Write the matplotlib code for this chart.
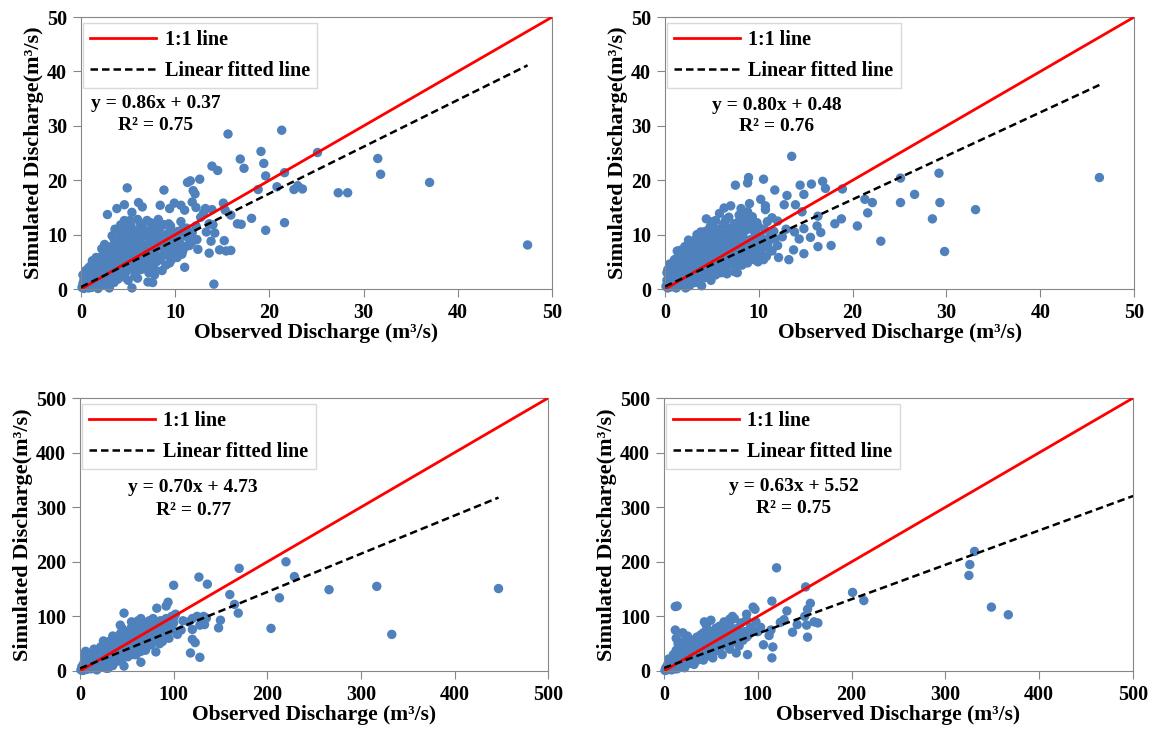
import matplotlib
matplotlib.use('Agg')
from matplotlib import pyplot as plt
from matplotlib.lines import Line2D

plt.rcParams['font.family'] = ['Liberation Serif', 'DejaVu Serif']
plt.rcParams['font.weight'] = 'bold'

# Panel 1 (0-50 m3/s): observed, simulated
obs1 = [15.6, 21.3, 19.1, 25.1, 16.9, 19.4, 17.3, 13.9, 14.5, 21.6, 19.6, 31.5, 31.8, 37.0, 27.3, 28.3,
        22.6, 23.5, 23.0, 20.8, 18.8, 47.4, 21.6, 19.6, 18.1, 16.6, 17.0, 15.9, 15.1, 15.3, 12.6, 11.3,
        11.6, 11.9, 12.1, 8.8, 4.9, 6.1, 4.6, 3.8, 2.8, 5.4, 6.5, 4.6, 8.4, 9.4, 9.9, 10.6, 11.0, 11.8,
        12.2, 13.2, 13.9, 13.0, 12.7, 13.6, 14.0, 13.3, 14.2, 13.8, 12.3, 12.4, 13.6, 14.7, 15.2, 15.4,
        15.9, 11.0, 14.1, 5.4, 7.1, 7.6, 7.8, 10.7, 9.8, 11.2, 11.7,
        0.1, 0.2, 0.3, 0.4, 0.5, 0.6, 0.7, 0.8, 0.9, 1.0, 0.3, 0.5, 0.8, 1.0,
        1.1, 1.2, 1.3, 1.4, 1.5, 1.6, 1.7, 1.8, 1.9, 2.0, 1.2, 1.6, 2.0, 1.8,
        2.1, 2.2, 2.3, 2.4, 2.5, 2.6, 2.7, 2.8, 2.9, 3.0, 2.2, 2.6, 3.0, 2.4, 3.0,
        3.1, 3.2, 3.3, 3.4, 3.5, 3.6, 3.7, 3.8, 3.9, 4.0, 3.3, 3.7, 4.0, 3.5,
        4.1, 4.2, 4.3, 4.4, 4.5, 4.6, 4.7, 4.8, 4.9, 5.0, 4.3, 4.6, 4.8, 5.0,
        5.1, 5.2, 5.3, 5.4, 5.5, 5.6, 5.7, 5.8, 5.9, 6.0, 5.3, 5.6, 6.0, 5.8,
        6.1, 6.2, 6.3, 6.4, 6.5, 6.6, 6.7, 6.8, 6.9, 7.0, 6.3, 6.6, 7.0,
        7.1, 7.2, 7.3, 7.4, 7.5, 7.6, 7.7, 7.8, 7.9, 8.0, 7.4, 7.8, 8.0,
        8.1, 8.3, 8.4, 8.6, 8.8, 8.9, 9.0, 8.5, 8.7,
        9.2, 9.4, 9.5, 9.7, 9.9, 10.0, 9.3, 9.6,
        10.3, 10.5, 10.8, 11.0, 11.2, 11.5, 11.8, 12.0, 10.6, 12.2]
sim1 = [28.5, 29.2, 25.3, 25.1, 23.9, 23.1, 22.2, 22.6, 21.8, 21.4, 20.8, 24.0, 21.1, 19.6, 17.7, 17.7,
        18.3, 18.4, 19.0, 18.8, 18.3, 8.1, 12.2, 10.8, 13.0, 12.0, 11.9, 13.6, 15.8, 14.5, 20.2, 19.6,
        19.9, 18.1, 17.5, 18.2, 18.6, 15.9, 15.5, 14.8, 13.7, 14.1, 15.1, 12.6, 15.4, 14.8, 15.8, 15.4, 14.5, 16.0,
        15.0, 14.8, 14.6, 14.0, 13.2, 12.0, 11.8, 10.5, 10.3, 8.8, 9.1, 7.3, 6.6, 7.2, 8.9, 7.0,
        7.1, 4.0, 0.9, 0.2, 1.3, 1.2, 2.6, 6.4, 7.2, 7.9, 8.5,
        0.3, 1.0, 0.1, 2.0, 0.6, 3.0, 1.4, 0.2, 2.4, 1.0, 1.6, 3.4, 3.9, 4.2,
        0.3, 2.0, 3.1, 1.2, 4.5, 2.6, 0.5, 3.6, 5.5, 1.8, 5.2, 5.8, 4.2, 0.1,
        3.0, 6.0, 0.8, 4.8, 8.2, 2.2, 5.4, 7.0, 3.6, 1.0, 7.4, 6.6, 5.8, 1.5, 0.2,
        4.2, 7.8, 2.5, 6.2, 9.2, 3.4, 5.0, 8.4, 1.8, 6.8, 9.8, 7.2, 4.0, 1.2,
        9.6, 2.8, 5.6, 10.4, 7.6, 4.4, 8.8, 3.2, 6.4, 10.0, 8.0, 11.2, 5.2, 1.6,
        7.0, 3.8, 9.0, 11.0, 5.8, 8.2, 2.4, 10.2, 6.6, 4.6, 11.6, 7.4, 9.4, 3.0,
        10.8, 6.0, 8.6, 3.6, 11.4, 7.2, 5.0, 9.8, 4.0, 8.0, 12.0, 10.4, 6.4,
        10.6, 5.6, 9.0, 7.0, 11.2, 4.6, 8.4, 10.0, 6.2, 9.4, 12.2, 3.6, 11.6,
        7.6, 10.8, 5.4, 9.0, 11.8, 7.0, 4.4, 12.0, 6.2,
        10.2, 8.0, 11.6, 6.8, 9.2, 7.4, 12.0, 5.4,
        10.6, 8.4, 7.0, 9.8, 11.2, 8.0, 10.4, 9.0, 12.4, 11.6]
# extra points of the solid cloud in panel 1
obs1_dense = [0.2, 0.4, 0.6, 0.9, 1.1, 1.4, 1.6, 1.9, 2.1, 2.3, 2.5, 2.7, 2.9, 3.2, 3.4, 3.6, 3.8, 4.0,
              4.2, 4.4, 4.6, 4.8, 5.0, 5.2, 5.4, 5.6, 5.8, 6.0, 6.2, 6.4, 6.6, 6.8, 7.0, 7.2, 7.4, 7.6,
              7.8, 8.0, 8.2, 8.4, 8.6, 8.8, 9.0, 9.2, 9.4, 9.6, 9.8, 10.2, 10.4, 10.8, 11.4,
              2.0, 3.0, 4.0, 5.0, 6.0, 7.0, 8.0, 9.0, 10.0, 1.5, 2.5, 3.5, 4.5, 5.5, 6.5, 7.5, 8.5,
              4.2, 5.2, 6.0, 3.6, 7.0, 8.2]
sim1_dense = [2.6, 0.8, 1.8, 0.6, 3.6, 2.4, 4.0, 1.0, 5.0, 2.8, 4.0, 1.6, 6.2, 3.0, 4.6, 6.6, 2.8, 8.6,
              4.8, 6.4, 2.2, 7.4, 5.6, 8.6, 4.4, 6.4, 8.8, 2.0, 7.6, 9.6, 5.6, 7.8, 10.2, 3.0, 8.6, 6.4,
              11.2, 5.0, 8.6, 10.0, 3.4, 7.8, 9.6, 6.2, 4.8, 10.8, 7.8, 5.8, 9.2, 11.0, 9.4,
              3.0, 4.0, 5.0, 6.0, 7.0, 8.0, 8.0, 9.0, 10.0, 1.5, 2.5, 3.5, 4.5, 5.5, 6.5, 7.5, 8.5,
              11.8, 12.6, 12.8, 11.0, 12.6, 12.8]

# Panel 2 (0-50 m3/s)
obs2 = [13.5, 46.3, 29.2, 25.1, 26.6, 29.3, 25.1, 33.1, 28.5, 29.8, 23.0, 20.5, 21.6, 22.1, 21.3, 18.9,
        18.8, 18.1, 17.7, 16.8, 17.1, 15.6, 14.4, 14.8, 11.7, 10.5, 8.9, 8.8, 7.5, 13.0, 12.7, 13.9,
        14.6, 16.3, 16.2, 16.6, 15.5, 14.3, 14.8, 16.3, 14.8, 13.7, 13.2, 12.1, 9.0, 10.2, 10.7, 11.4,
        10.7, 9.3, 8.1, 8.8, 7.0, 6.3, 5.8, 4.4, 5.1, 6.5, 7.9, 3.8, 3.2, 2.6, 2.4, 1.6, 7.7, 12.9,
        12.5, 13.8, 12.0, 11.7,
        0.1, 0.2, 0.3, 0.4, 0.5, 0.6, 0.7, 0.8, 0.9, 1.0, 0.5, 1.0, 0.3,
        1.1, 1.2, 1.3, 1.4, 1.5, 1.6, 1.7, 1.8, 1.9, 2.0, 1.3, 1.7, 2.0,
        2.1, 2.2, 2.3, 2.4, 2.5, 2.6, 2.7, 2.8, 2.9, 3.0, 2.5, 3.0, 2.2,
        3.1, 3.2, 3.3, 3.4, 3.5, 3.6, 3.7, 3.8, 3.9, 4.0, 3.4, 3.8, 4.0,
        4.1, 4.2, 4.3, 4.4, 4.5, 4.6, 4.7, 4.8, 4.9, 5.0, 4.4, 4.8, 5.0,
        5.1, 5.2, 5.3, 5.4, 5.5, 5.6, 5.7, 5.8, 5.9, 6.0, 5.4, 5.8, 6.0,
        6.1, 6.2, 6.3, 6.4, 6.5, 6.6, 6.7, 6.8, 6.9, 7.0, 6.4, 7.0, 6.6,
        7.1, 7.2, 7.3, 7.4, 7.5, 7.6, 7.7, 7.8, 7.9, 8.0, 7.4, 8.0,
        8.1, 8.3, 8.4, 8.5, 8.6, 8.8, 8.9, 9.0, 8.5, 8.7,
        9.1, 9.3, 9.4, 9.5, 9.7, 9.8, 10.0, 9.2, 9.9, 9.6,
        10.2, 10.4, 10.6, 10.8, 11.0, 10.5, 11.2, 10.9, 11.4]
sim2 = [24.4, 20.5, 21.3, 20.4, 17.4, 15.9, 15.9, 14.6, 12.9, 6.9, 8.8, 11.6, 14.0, 15.9, 16.5, 18.4,
        12.9, 12.0, 8.0, 19.8, 18.5, 19.3, 19.1, 17.4, 18.2, 20.2, 20.5, 19.5, 19.1, 17.2, 15.5, 15.5,
        14.2, 13.4, 11.6, 10.4, 9.5, 9.2, 11.1, 7.8, 6.5, 7.2, 5.4, 5.8, 15.7, 16.5, 15.3, 13.1,
        14.6, 13.3, 14.8, 14.2, 15.3, 14.9, 13.9, 12.9, 12.4, 12.8, 12.5, 10.5, 9.0, 8.8, 7.5, 7.1, 3.0, 11.0,
        9.6, 10.5, 12.5, 9.2,
        0.5, 1.6, 0.2, 2.4, 1.0, 3.2, 0.4, 2.0, 4.0, 1.2, 4.6, 5.4, 3.6,
        2.8, 0.2, 4.6, 6.0, 1.6, 3.8, 5.2, 0.8, 6.6, 2.6, 7.0, 1.0, 4.8,
        7.8, 1.4, 5.6, 3.4, 6.8, 0.6, 4.4, 8.6, 2.2, 6.0, 9.0, 3.8, 0.2,
        8.0, 1.2, 5.0, 7.2, 2.8, 9.6, 4.2, 6.4, 0.6, 8.4, 10.0, 3.4, 5.6,
        2.0, 7.4, 10.6, 4.8, 8.8, 3.0, 6.2, 11.4, 1.6, 7.8, 9.6, 5.4, 12.0,
        4.0, 9.0, 6.6, 2.6, 11.0, 5.0, 8.2, 3.4, 10.2, 6.0, 12.6, 7.4, 4.2,
        9.4, 11.8, 5.2, 7.8, 3.6, 10.6, 6.6, 13.2, 4.6, 8.6, 12.4, 11.2, 2.8,
        5.8, 9.8, 7.2, 12.0, 4.4, 10.4, 6.4, 8.8, 13.6, 5.2, 3.2, 11.4,
        7.6, 9.6, 12.6, 6.0, 10.8, 4.8, 8.4, 11.8, 13.8, 7.0,
        6.4, 9.2, 10.8, 5.4, 8.0, 12.2, 6.8, 13.0, 5.0, 7.2,
        9.6, 7.6, 11.0, 6.0, 8.6, 5.4, 10.0, 12.4, 7.0]
obs2_dense = [0.2, 0.4, 0.6, 0.8, 1.0, 1.2, 1.4, 1.6, 1.8, 2.0, 2.2, 2.4, 2.6, 2.8, 3.0, 3.2, 3.4, 3.6,
              3.8, 4.0, 4.2, 4.4, 4.6, 4.8, 5.0, 5.2, 5.4, 5.6, 5.8, 6.0, 6.2, 6.4, 6.6, 6.8, 7.0, 7.2,
              7.4, 7.6, 7.8, 8.0, 8.2, 8.4, 8.6, 8.8, 9.0, 9.2, 9.4, 9.6, 9.8, 10.0, 10.2, 10.4, 10.6,
              11.0, 11.6, 12.0, 2.0, 3.0, 4.0, 5.0, 6.0, 7.0, 8.0, 9.0, 10.0]
sim2_dense = [3.0, 1.2, 2.0, 4.6, 3.0, 1.8, 4.0, 2.4, 5.6, 1.0, 3.6, 5.8, 2.6, 4.8, 7.4, 3.2, 5.6, 1.8,
              7.8, 4.2, 6.0, 2.6, 8.0, 4.0, 6.6, 10.4, 5.6, 7.2, 9.4, 3.0, 6.8, 8.8, 4.8, 10.0, 6.2, 8.0,
              5.4, 11.6, 7.0, 9.6, 4.4, 8.0, 11.2, 6.6, 9.0, 7.4, 5.6, 10.4, 8.4, 11.4, 6.4, 8.4, 9.0,
              7.6, 10.6, 8.0, 2.0, 3.0, 4.0, 5.0, 6.0, 7.0, 8.0, 7.8, 9.0]

# Panel 3 (0-500 m3/s)
obs3 = [447, 333, 317, 266, 229, 220, 213, 204, 170, 169, 165, 160, 150, 148, 136, 127, 132, 130, 128,
        133, 135, 128, 118, 120, 123, 120, 116, 120, 110, 104, 100, 94, 92, 82, 78, 81, 65, 47, 43, 53,
        47, 6, 30, 60, 70, 88, 95, 100, 102, 98, 108, 125,
        1, 2, 3, 4, 5, 6, 7, 8, 9, 10, 5, 10,
        11, 12, 13, 14, 15, 16, 17, 18, 19, 20, 15, 20,
        21, 22, 23, 24, 25, 26, 27, 28, 29, 30, 25, 30,
        31, 32, 33, 34, 35, 36, 37, 38, 39, 40, 35, 40,
        41, 42, 43, 44, 45, 46, 47, 48, 49, 50, 45, 50,
        51, 52, 53, 54, 55, 56, 57, 58, 59, 60, 55, 60,
        61, 62, 63, 64, 65, 66, 67, 68, 69, 70, 65, 70,
        71, 72, 73, 74, 75, 76, 78, 80, 82, 84, 86, 88, 90, 92, 94, 96, 98, 100, 85, 76]
sim3 = [151, 67, 155, 149, 173, 200, 134, 78, 188, 106, 122, 140, 93, 79, 159, 172, 100, 87, 84,
        85, 97, 25, 33, 58, 52, 76, 90, 96, 92, 67, 157, 126, 119, 115, 96, 35, 16, 106, 84, 45,
        9, 36, 5, 30, 38, 54, 60, 98, 104, 80, 75, 100,
        2, 8, 1, 14, 5, 20, 3, 10, 25, 6, 28, 18,
        30, 4, 15, 24, 9, 36, 20, 2, 28, 12, 40, 34,
        22, 44, 8, 30, 16, 50, 36, 5, 24, 42, 55, 14,
        54, 32, 20, 46, 10, 60, 38, 26, 50, 18, 64, 62,
        44, 30, 68, 52, 22, 58, 40, 72, 32, 48, 78, 62,
        26, 70, 54, 38, 80, 46, 64, 30, 86, 56, 90, 42,
        74, 92, 50, 68, 36, 84, 58, 76, 44, 88, 96, 64,
        52, 80, 70, 92, 60, 48, 84, 66, 90, 56, 78, 70, 92, 62, 84, 74, 100, 88, 50, 88]
obs3_dense = [2, 4, 6, 8, 10, 12, 14, 16, 18, 20, 22, 24, 26, 28, 30, 32, 34, 36, 38, 40, 42, 44, 46, 48,
              50, 52, 54, 56, 58, 60, 62, 64, 66, 68, 70, 72, 74, 76, 78, 80, 82, 84, 86, 88, 90, 92, 94, 96,
              18, 28, 38, 48, 58, 68, 24, 34, 44, 54, 64, 74, 12, 22]
sim3_dense = [4, 2, 8, 4, 12, 8, 14, 6, 18, 22, 14, 20, 26, 18, 30, 24, 36, 28, 40, 34, 46, 38, 48, 42,
              54, 44, 58, 50, 62, 66, 58, 74, 62, 70, 76, 66, 78, 72, 90, 78, 72, 82, 92, 80, 86, 96, 78, 90,
              30, 44, 58, 66, 76, 86, 10, 18, 26, 30, 40, 48, 22, 36]

# Panel 4 (0-500 m3/s)
obs4 = [331, 326, 325, 349, 367, 213, 201, 151, 120, 115, 131, 153, 156, 164, 153, 142, 137, 128, 124,
        152, 150, 115, 116, 106, 112, 114, 103, 95, 97, 88, 89, 77, 73, 70, 50, 43, 12, 14, 12, 13, 20, 160,
        1, 2, 3, 4, 5, 6, 7, 8, 9, 10, 5, 10,
        11, 12, 13, 14, 15, 16, 17, 18, 19, 20, 15, 20,
        21, 22, 23, 24, 25, 26, 27, 28, 29, 30, 25, 30,
        31, 32, 33, 34, 35, 36, 37, 38, 39, 40, 35, 40,
        41, 42, 43, 44, 45, 46, 47, 48, 49, 50, 45, 50,
        51, 52, 53, 54, 55, 56, 57, 58, 59, 60, 55, 60,
        62, 64, 65, 66, 68, 70, 72, 74, 75, 76, 78, 80, 82, 84, 86, 88, 90, 92, 95, 98, 100, 80, 70]
sim4 = [219, 195, 175, 117, 103, 129, 144, 154, 189, 128, 110, 113, 124, 88, 62, 85, 71, 94, 89,
        84, 100, 24, 44, 48, 65, 75, 80, 117, 113, 104, 30, 33, 100, 95, 93, 90, 118, 119, 75, 60, 70, 90,
        1, 6, 2, 12, 4, 18, 8, 2, 24, 10, 22, 30,
        6, 16, 38, 4, 26, 12, 44, 20, 8, 32, 50, 14,
        54, 24, 10, 40, 18, 58, 30, 14, 48, 22, 64, 38,
        56, 16, 44, 28, 62, 20, 50, 34, 66, 24, 40, 56,
        42, 70, 30, 58, 36, 76, 48, 28, 64, 40, 84, 54,
        72, 32, 60, 46, 78, 38, 66, 50, 82, 44, 56, 70,
        58, 90, 48, 74, 60, 84, 52, 68, 96, 58, 78, 64, 88, 56, 72, 94, 66, 80, 74, 90, 72, 46, 40]
obs4_dense = [2, 4, 6, 8, 10, 12, 14, 16, 18, 20, 22, 24, 26, 28, 30, 32, 34, 36, 38, 40, 42, 44, 46, 48,
              50, 52, 54, 56, 58, 60, 62, 64, 66, 68, 70, 72, 74, 76, 78, 80, 84, 88,
              10, 20, 30, 40, 50, 60, 16, 26, 36, 46, 56, 66, 12, 22, 32, 42, 52, 62]
sim4_dense = [3, 6, 3, 10, 5, 10, 18, 8, 26, 20, 12, 28, 20, 34, 28, 40, 22, 44, 28, 46, 36, 50, 40, 56,
              46, 62, 52, 60, 44, 62, 48, 66, 56, 72, 60, 76, 62, 66, 60, 74, 70, 62,
              20, 40, 48, 64, 70, 80, 30, 44, 54, 66, 72, 86, 4, 6, 12, 20, 24, 30]

# fitted line: slope, intercept, last observed x; plus equation text
slopes = [0.86, 0.80, 0.70, 0.63]
intercepts = [0.37, 0.48, 4.73, 5.52]
fit_end = [47.4, 46.3, 447, 500]
r2 = [0.75, 0.76, 0.77, 0.75]
eq_pos = [(7.9, 34.2, 30.0), (11.9, 33.8, 29.8), (121, 336, 294), (138, 338, 297)]
axis_max = [50, 50, 500, 500]

obs = [obs1 + obs1_dense, obs2 + obs2_dense, obs3 + obs3_dense, obs4 + obs4_dense]
sim = [sim1 + sim1_dense, sim2 + sim2_dense, sim3 + sim3_dense, sim4 + sim4_dense]

fig = plt.figure(figsize=(11.53, 7.31), dpi=100)
rects = [[0.0703, 0.6046, 0.4085, 0.372], [0.5768, 0.6046, 0.4068, 0.372],
         [0.0694, 0.0821, 0.406, 0.3734], [0.5759, 0.0821, 0.4068, 0.3734]]

for i in range(4):
    ax = fig.add_axes(rects[i])
    m = axis_max[i]
    ax.scatter(obs[i], sim[i], s=46, color='#4F81BD', edgecolors='none', zorder=2, clip_on=False)
    ax.plot([0, m], [0, m], color='#FF0000', lw=2, zorder=3)
    ax.plot([0, fit_end[i]], [intercepts[i], slopes[i] * fit_end[i] + intercepts[i]],
            color='black', lw=1.8, ls=(0, (3, 1.6)), zorder=3)
    ax.set_xlim(0, m)
    ax.set_ylim(0, m)
    ax.set_xticks(range(0, m + 1, m // 5))
    ax.set_yticks(range(0, m + 1, m // 5))
    ax.tick_params(labelsize=14.5, length=6, color='#868686', pad=4)
    for lab in ax.get_xticklabels() + ax.get_yticklabels():
        lab.set_fontweight('bold')
    for sp in ax.spines.values():
        sp.set_color('#868686')
    ax.set_xlabel('Observed Discharge (m³/s)', fontsize=15.5, fontweight='bold', labelpad=0)
    ax.set_ylabel('Simulated Discharge(m³/s)', fontsize=16, fontweight='bold', labelpad=2)

    ex, ey, ry = eq_pos[i]
    ax.text(ex, ey, f'y = {slopes[i]:.2f}x + {intercepts[i]:.2f}', ha='center', va='center',
            fontsize=14, fontweight='bold')
    ax.text(ex, ry, f'R² = {r2[i]:.2f}', ha='center', va='center', fontsize=14, fontweight='bold')

    handles = [Line2D([], [], color='#FF0000', lw=2),
               Line2D([], [], color='black', lw=1.8, ls=(0, (3, 1.6)))]
    leg = ax.legend(handles, ['1:1 line', 'Linear fitted line'], loc='upper left',
                    bbox_to_anchor=(0.004, 0.978), borderaxespad=0, fancybox=False,
                    edgecolor='#D9D9D9', prop={'size': 14.5, 'weight': 'bold'},
                    handlelength=3.3, handletextpad=0.4, borderpad=0.35, labelspacing=0.55,
                    framealpha=1)
    leg.get_frame().set_linewidth(1)

plt.savefig('out.png', dpi=100)
